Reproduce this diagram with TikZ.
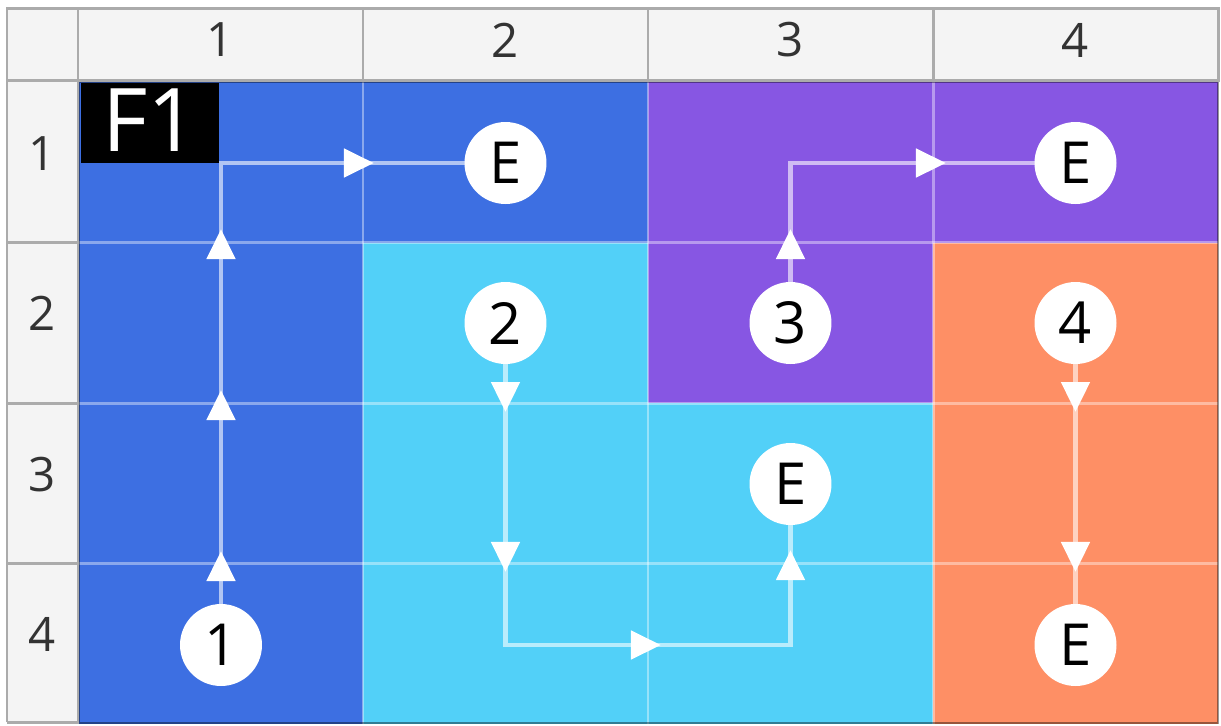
\documentclass[tikz,border=0pt]{standalone}
\usepackage{fontspec}
\setmainfont{Open Sans}
\usetikzlibrary{arrows.meta,decorations.markings}
\tikzset{>={Triangle[length=0.6cm,width=0.56cm]}}
\definecolor{cellblue}{HTML}{3D6FE2}
\definecolor{cellcyan}{HTML}{52D0F8}
\definecolor{cellpurple}{HTML}{8756E3}
\definecolor{cellorange}{HTML}{FE8F65}
\definecolor{headgray}{HTML}{F4F4F4}
\definecolor{framegray}{HTML}{ABABAB}
\definecolor{headtext}{HTML}{333333}
\tikzset{
	dot/.style={circle,fill=white,minimum size=1.64cm,inner sep=0pt,outer sep=0pt,text=black,font=\fontsize{33}{34}\selectfont},
	link/.style={white,opacity=.6,line width=2.8pt},
	tip/.style={postaction={decorate,decoration={markings,mark=at position #1 with {\pgfsetstrokeopacity{1}\pgfsetfillopacity{1}\arrow{>}}}}},
	grid/.style={white,opacity=.4,line width=1.7pt},
	frame/.style={framegray,line width=1.7pt},
	head/.style={text=headtext,font=\fontsize{27}{29}\selectfont}
}

\begin{document}
\begin{tikzpicture}[x=0.02cm,y=-0.02cm]
		\useasboundingbox (0,0) rectangle (1221,725);
		\fill[headgray] (7,8) rectangle (1218,80);
		\fill[headgray] (7,80) rectangle (78,722);
		\foreach \col/\row/\clr in {1/1/cellblue,2/1/cellblue,3/1/cellpurple,4/1/cellpurple,
			1/2/cellblue,2/2/cellcyan,3/2/cellpurple,4/2/cellorange,
			1/3/cellblue,2/3/cellcyan,3/3/cellcyan,4/3/cellorange,
			1/4/cellblue,2/4/cellcyan,3/4/cellcyan,4/4/cellorange}
		\fill[\clr] ({78+285*(\col-1)},{82+160.5*(\row-1)}) rectangle ++(285,160.5);
		\foreach \i in {1,2,3}{
			\draw[grid] ({78+285*\i},82) -- (78+285*\i,724);
			\draw[grid] (78,{82+160.5*\i}) -- (1218,82+160.5*\i);
			\draw[frame] ({78+285*\i},8) -- (78+285*\i,80);
			\draw[frame] (7,{82+160.5*\i}) -- (78,82+160.5*\i);
		}
		\draw[black,opacity=.4,line width=1.5pt] (79,82) rectangle (1218,723);
		\draw[frame] (7,722) -- (7,8) -- (1218,8) -- (1218,80) -- (7,80);
		\draw[frame] (78,8) -- (78,722) -- (7,722);
		\foreach \i in {1,...,4}{
			\node[head] (c\i) at ({78+285*(\i-0.5)},40) {\i};
			\node[head] (r\i) at (42,{73+160.5*(\i-0.5)}) {\i};
		}
		\node[fill=black,text=white,anchor=north west,inner sep=0pt,minimum width=2.76cm,minimum height=1.6cm,font=\fontsize{50}{50}\selectfont] (f1) at (81,83) {\raisebox{4pt}{F1}};
		\node[dot] (s1) at (221,645) {1};
		\node[dot] (s2) at (505.5,323) {2};
		\node[dot] (s3) at (790.5,323) {3};
		\node[dot] (s4) at (1075.5,323) {4};
		\node[dot] (e1) at (505.5,163) {E};
		\node[dot] (e2) at (1075.5,163) {E};
		\node[dot] (e3) at (790.5,484) {E};
		\node[dot] (e4) at (1075.5,645) {E};
		\draw[link,tip=1.06cm,tip=4.28cm,tip=7.5cm,tip=11.88cm] (s1) |- (e1);
		\draw[link,tip=0.96cm,tip=4.16cm,tip=8.73cm,tip=13.22cm] (s2) -- (s2 |- s1) -| (e3);
		\draw[link,tip=1.06cm,tip=5.49cm] (s3) |- (e2);
		\draw[link,tip=0.96cm,tip=4.16cm] (s4) -- (e4);
	\end{tikzpicture}
\end{document}
